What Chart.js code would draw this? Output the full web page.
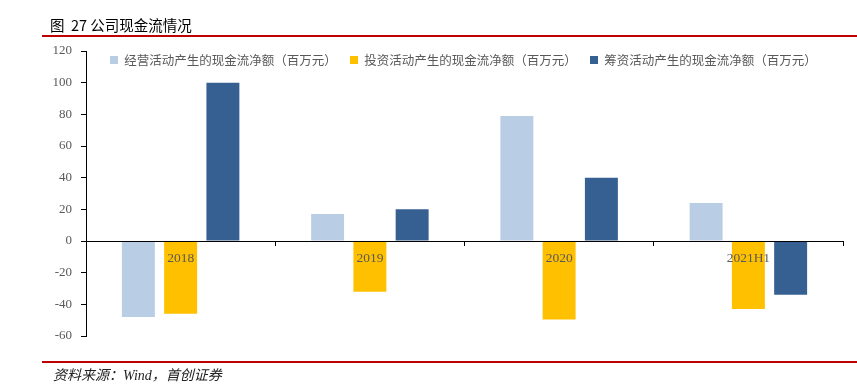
<!DOCTYPE html>
<html><head><meta charset="utf-8">
<script src="https://cdn.jsdelivr.net/npm/chart.js@4.4.1/dist/chart.umd.min.js"></script>
<style>
html,body{margin:0;padding:0;background:#fff;width:857px;height:385px;overflow:hidden;}
#wrap{position:relative;width:857px;height:385px;}
#c{position:absolute;left:0;top:0;}
#title{position:absolute;left:50px;top:16px;font-size:14.5px;font-family:"Noto Sans CJK SC","Noto Sans",sans-serif;color:#000;line-height:18px;white-space:pre;}
#topline{position:absolute;left:42px;top:35px;width:815px;height:2px;background:#C00000;}
#botline{position:absolute;left:42px;top:361px;width:815px;height:2px;background:#C00000;}
#src{position:absolute;left:53px;top:368px;font-size:14px;font-style:italic;font-family:"Liberation Serif","Noto Sans CJK SC",serif;color:#222;line-height:16px;white-space:pre;}
</style></head>
<body><div id="wrap">
<canvas id="c" width="857" height="385"></canvas>
<div id="title">图  27 公司现金流情况</div>
<div id="topline"></div>
<div id="botline"></div>
<div id="src">资料来源：Wind，首创证券</div>
</div>
<script>
const categories = ['2018', '2019', '2020', '2021H1'];
const seriesNames = ['经营活动产生的现金流净额（百万元）', '投资活动产生的现金流净额（百万元）', '筹资活动产生的现金流净额（百万元）'];
const operating = [-48, 17, 79, 24];
const investing = [-46, -32, -49.5, -43];
const financing = [100, 20, 40, -34];
const yTicks = [-60, -40, -20, 0, 20, 40, 60, 80, 100, 120];

const colors = ['#B9CDE5', '#FFC000', '#376092'];
const LEG_PAD = 13.25, LEG_FONT = 12.5;

const moveLegend = {
  id: 'moveLegend',
  afterLayout(chart) {
    const lg = chart.legend;
    if (!lg) return;
    const w = lg.width, h = lg.height;
    lg.left = 110 - LEG_PAD; lg.right = lg.left + w;
    lg.top = 60 - LEG_FONT / 2 - LEG_PAD; lg.bottom = lg.top + h;
  }
};

new Chart(document.getElementById('c'), {
  type: 'bar',
  data: {
    labels: categories,
    datasets: [operating, investing, financing].map((d, i) => ({
      label: seriesNames[i], data: d, backgroundColor: colors[i], borderWidth: 0,
      categoryPercentage: 0.67, barPercentage: 0.78
    }))
  },
  options: {
    responsive: false, animation: false,
    layout: { padding: { left: 0, right: 14, top: 15.25, bottom: 49 } },
    plugins: {
      legend: {
        position: 'top', align: 'start',
        labels: { boxWidth: 8, boxHeight: 8, padding: LEG_PAD, color: '#595959',
          font: { size: LEG_FONT, family: '"Noto Sans CJK SC", sans-serif' } }
      },
      tooltip: { enabled: false }
    },
    scales: {
      x: {
        position: { y: 0 },
        grid: { display: true, drawOnChartArea: false, drawTicks: true, tickLength: 4, color: '#000', offset: true, z: 1 },
        border: { display: true, color: '#000', width: 1, z: 1 },
        ticks: { z: 1, color: '#595959', padding: 5, font: { size: 13.5, family: '"Liberation Serif", serif' } }
      },
      y: {
        min: -60, max: 120,
        afterFit(s) { s.width = 86; },
        afterBuildTicks(s) { s.ticks = yTicks.map(v => ({ value: v })); },
        grid: { display: true, drawOnChartArea: false, drawTicks: true, tickLength: 5, color: '#000' },
        border: { display: true, color: '#000', width: 1 },
        ticks: { color: '#595959', padding: 9, font: { size: 13, family: '"Liberation Serif", serif' } }
      }
    }
  },
  plugins: [moveLegend]
});
</script>
</body></html>
